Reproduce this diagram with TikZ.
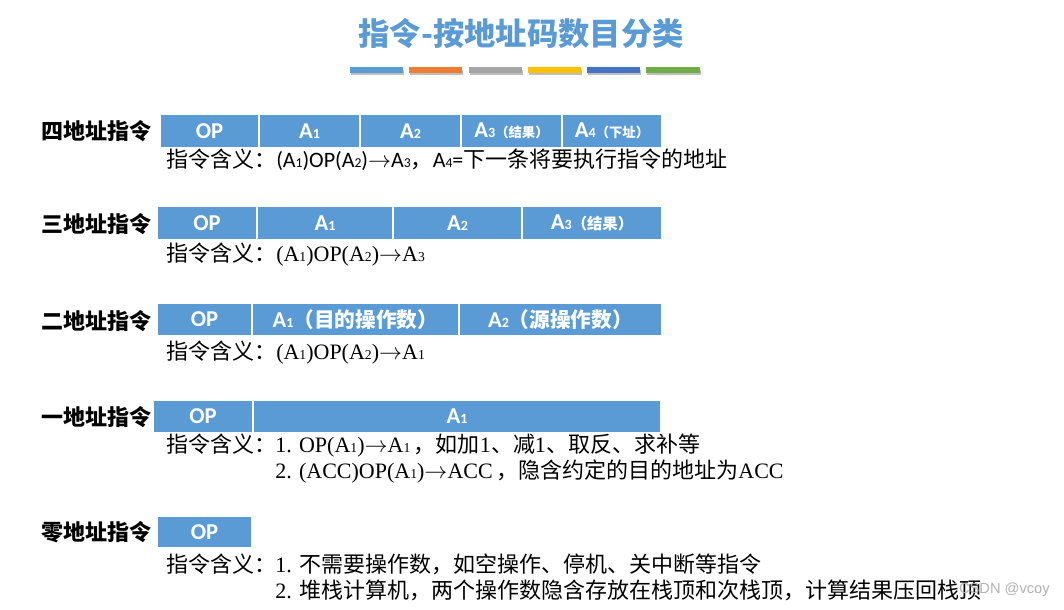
\documentclass[tikz,border=0pt]{standalone}
\usepackage{fontspec}
\setmainfont{Liberation Serif}
\newfontfamily\cjk{Noto Sans CJK SC}
\newfontfamily\lsans{Liberation Sans}
\newfontfamily\calfont{Carlito}
\usetikzlibrary{positioning}

\definecolor{fldblue}{RGB}{91,155,213}
\definecolor{barorange}{RGB}{237,125,49}
\definecolor{bargray}{RGB}{165,165,165}
\definecolor{bargold}{RGB}{255,192,0}
\definecolor{bardark}{RGB}{68,114,196}
\definecolor{bargreen}{RGB}{112,173,71}

\newcommand{\sbs}[1]{\scalebox{0.62}{#1}}
\newcommand{\arr}{$\rightarrow$}

\tikzset{
  fld/.style={fill=fldblue,draw=white,line width=0.8pt},
  fldtxt/.style={text=white,inner sep=0pt,font=\calfont\bfseries\fontsize{17}{20}\selectfont},
  lbl/.style={anchor=west,inner sep=0pt,font=\cjk\bfseries\fontsize{16.5}{20}\selectfont},
  means/.style={anchor=west,inner sep=0pt,text height=12pt,text depth=3pt,font=\fontsize{16.5}{20}\selectfont},
}

\begin{document}
\begin{tikzpicture}[x=0.75pt,y=-0.75pt]
\useasboundingbox[fill=white] (0,0) rectangle (1064,610);

% title
\node (title) at (521,34) [inner sep=0pt,text=fldblue,font=\cjk\bfseries\fontsize{23.5}{28}\selectfont] {指令-按地址码数目分类};
\fill[black!25] (351,70) rectangle (404,75);
\fill[black!25] (410,70) rectangle (463,75);
\fill[black!25] (470,70) rectangle (523,75);
\fill[black!25] (529,70) rectangle (582,75);
\fill[black!25] (588,70) rectangle (641,75);
\fill[black!25] (647,70) rectangle (701,75);
\fill[fldblue] (350,67) rectangle (403,73);
\fill[barorange] (409,67) rectangle (462,73);
\fill[bargray] (469,67) rectangle (522,73);
\fill[bargold] (528,67) rectangle (581,73);
\fill[bardark] (587,67) rectangle (640,73);
\fill[bargreen] (646,67) rectangle (700,73);

% four addresses
\node (l4) at (41,131) [lbl] {四地址指令};
\draw[fld] (160,114) rectangle (259,148);
\draw[fld] (259,114) rectangle (360,148);
\draw[fld] (360,114) rectangle (461,148);
\draw[fld] (461,114) rectangle (562,148);
\draw[fld] (562,114) rectangle (662,148);
\node (f4op) at (209.5,131) [fldtxt] {OP};
\node (f4a1) at (309.5,131) [fldtxt] {A\sbs{1}};
\node (f4a2) at (410.5,131) [fldtxt] {A\sbs{2}};
\node (f4a3) at (511.5,131) [fldtxt] {A\sbs{3}{\cjk\fontsize{10}{12}\selectfont（结果）}};
\node (f4a4) at (612,131) [fldtxt] {A\sbs{4}{\cjk\fontsize{10}{12}\selectfont（下址）}};
\node (m4) at (166,161) [means] {\cjk 指令含义：\calfont(A\sbs{1})OP(A\sbs{2})\arr A\sbs{3}\cjk，\calfont A\sbs{4}=\cjk 下一条将要执行指令的地址};

% three addresses
\node (l3) at (41,224) [lbl] {三地址指令};
\draw[fld] (157,206) rectangle (257,240);
\draw[fld] (257,206) rectangle (393,240);
\draw[fld] (393,206) rectangle (522,240);
\draw[fld] (522,206) rectangle (662,240);
\node (f3op) at (207,223) [fldtxt] {OP};
\node (f3a1) at (325,223) [fldtxt] {A\sbs{1}};
\node (f3a2) at (457.5,223) [fldtxt] {A\sbs{2}};
\node (f3a3) at (592,223) [fldtxt] {A\sbs{3}{\cjk\fontsize{11.5}{13}\selectfont（结果）}};
\node (m3) at (166,255) [means] {\cjk 指令含义：\rmfamily(A\sbs{1})OP(A\sbs{2})\arr A\sbs{3}};

% two addresses
\node (l2) at (41,321) [lbl] {二地址指令};
\draw[fld] (157,303) rectangle (252,336);
\draw[fld] (252,303) rectangle (459,336);
\draw[fld] (459,303) rectangle (662,336);
\node (f2op) at (204.5,319.5) [fldtxt] {OP};
\node (f2a1) at (355.5,319.5) [fldtxt] {A\sbs{1}{\cjk\fontsize{15.5}{18}\selectfont（目的操作数）}};
\node (f2a2) at (560.5,319.5) [fldtxt] {A\sbs{2}{\cjk\fontsize{15.5}{18}\selectfont（源操作数）}};
\node (m2) at (166,353) [means] {\cjk 指令含义：\rmfamily(A\sbs{1})OP(A\sbs{2})\arr A\sbs{1}};

% one address
\node (l1) at (41,417) [lbl] {一地址指令};
\draw[fld] (153,400) rectangle (253,433);
\draw[fld] (253,400) rectangle (661,433);
\node (f1op) at (203,416.5) [fldtxt] {OP};
\node (f1a1) at (457,416.5) [fldtxt] {A\sbs{1}};
\node (m1) at (166,446) [means] {\cjk 指令含义：};
\node (m1a) at (275,446) [means] {1. OP(A\sbs{1})\arr A\sbs{1}\,\cjk，如加\rmfamily 1\cjk、减\rmfamily 1\cjk、取反、求补等};
\node (m1b) at (275,472) [means] {2. (ACC)OP(A\sbs{1})\arr ACC\,\cjk，隐含约定的目的地址为\rmfamily ACC};

% zero address
\node (l0) at (41,532) [lbl] {零地址指令};
\draw[fld] (157,516) rectangle (252,548);
\node (f0op) at (204.5,532) [fldtxt] {OP};
\node (m0) at (166,566) [means] {\cjk 指令含义：};
\node (m0a) at (275,566) [means] {1. \cjk 不需要操作数，如空操作、停机、关中断等指令};
\node (m0b) at (275,592) [means] {2. \cjk 堆栈计算机，两个操作数隐含存放在栈顶和次栈顶，计算结果压回栈顶};

\node (wm) at (1050,590) [anchor=east,inner sep=0pt,text=black!30,font=\lsans\fontsize{11}{13}\selectfont] {CSDN @vcoy};
\end{tikzpicture}
\end{document}
